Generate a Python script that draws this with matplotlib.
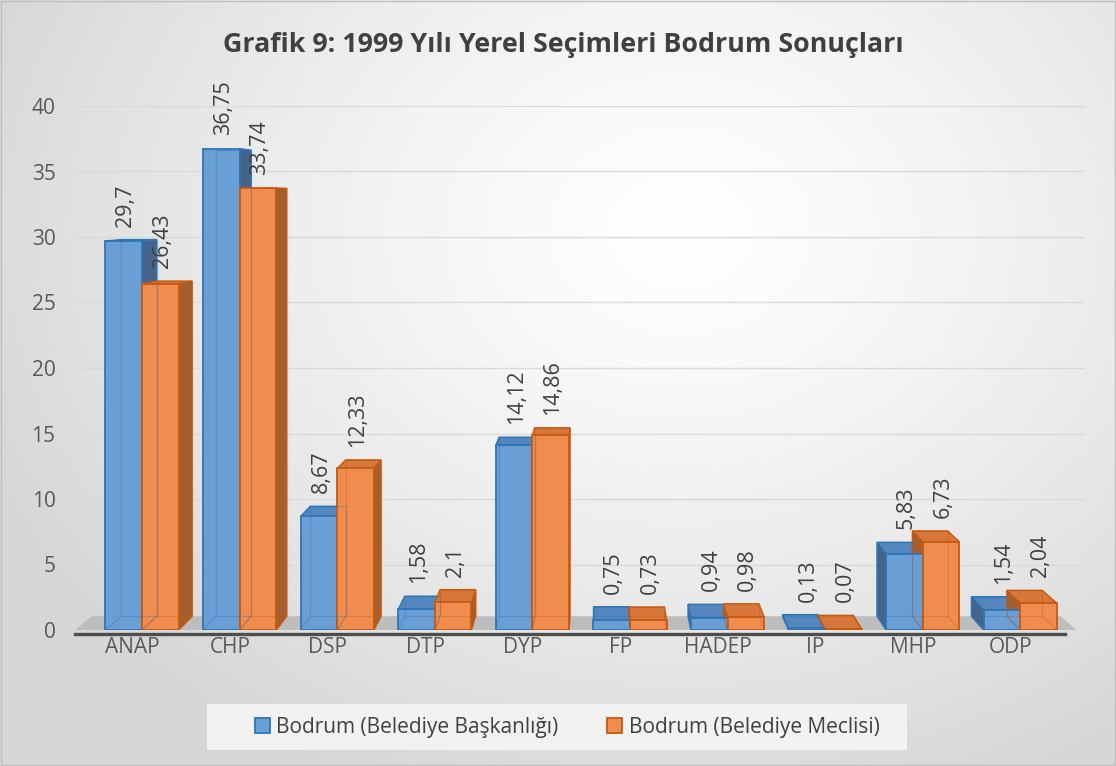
import numpy as np
import matplotlib
matplotlib.use("Agg")
import matplotlib.pyplot as plt
from matplotlib.patches import Polygon, Rectangle

plt.rcParams['font.family'] = ['Open Sans', 'DejaVu Sans']

# Veriler
partiler = ['ANAP', 'CHP', 'DSP', 'DTP', 'DYP', 'FP', 'HADEP', 'IP', 'MHP', 'ODP']
baskanlik = [29.7, 36.75, 8.67, 1.58, 14.12, 0.75, 0.94, 0.13, 5.83, 1.54]
meclis = [26.43, 33.74, 12.33, 2.1, 14.86, 0.73, 0.98, 0.07, 6.73, 2.04]
seri_adlari = ['Bodrum (Belediye Başkanlığı)', 'Bodrum (Belediye Meclisi)']
y_ticks = [0, 5, 10, 15, 20, 25, 30, 35, 40]

# renkler: on yuz, kenar, yan yuz, ust yuz
mavi = ('#6a9fd6', '#2e75b6', '#44648a', '#5586bd')
turuncu = ('#f08d4e', '#c55a11', '#a55e2d', '#d8773a')

# perspektif (veri koordinatlari)
VX, VY, K = 4.78, 32.8, 0.032
W = 0.375


def geri(x, y):
    return x + (VX - x) * K, y + (VY - y) * K


def kutu(ax, xc, h, renk):
    x0, x1 = xc - W / 2, xc + W / 2
    if x1 < VX:
        pts = [(x1, 0), (x1, h), geri(x1, h), geri(x1, 0)]
        ax.add_patch(Polygon(pts, closed=True, fc=renk[2], ec=renk[1], lw=1, zorder=2))
    elif x0 > VX:
        pts = [(x0, 0), (x0, h), geri(x0, h), geri(x0, 0)]
        ax.add_patch(Polygon(pts, closed=True, fc=renk[2], ec=renk[1], lw=1, zorder=2))
    if h < VY:
        pts = [(x0, h), (x1, h), geri(x1, h), geri(x0, h)]
        ax.add_patch(Polygon(pts, closed=True, fc=renk[3], ec=renk[1], lw=1, zorder=2))
    # arka kenarlar (on yuzden seffaf gorunen)
    arka = [geri(x0, 0), geri(x1, 0), geri(x1, h), geri(x0, h)]
    ax.add_patch(Polygon(arka, closed=True, fill=False, ec=renk[1], lw=0.9,
                         alpha=0.35, zorder=4))
    for px, py in ((x0, 0), (x1, 0)):
        bx, by = geri(px, py)
        ax.plot([px, bx], [py, by], color=renk[1], lw=0.9, alpha=0.35, zorder=4)


fig = plt.figure(figsize=(11.16, 7.66), dpi=100)

# arka plan (radyal gecis)
bg = fig.add_axes([0, 0, 1, 1], zorder=-10)
yy, xx = np.mgrid[0:766, 0:1116]
r = np.sqrt((xx - 680) ** 2 + ((yy - 230) * 1.25) ** 2) / 760
r = np.clip(r, 0, 1)
g = 1.0 - 0.16 * r ** 1.3
bg.imshow(np.dstack([g, g, g]), aspect='auto', extent=(0, 1, 0, 1), origin='upper')
bg.set_axis_off()
fig.patches.append(Rectangle((0.0005, 0.0008), 0.999, 0.998, transform=fig.transFigure,
                             fill=False, ec='#bfbfbf', lw=1))

ax = fig.add_axes([75 / 1116, 136 / 766, 1010 / 1116, 524 / 766])
ax.set_facecolor('none')
ax.set_xlim(-0.59, 9.76)
ax.set_ylim(0, 40)

x = np.arange(len(partiler))
xb = x - 0.09
xm = x + 0.285

# zemin
fl, fr = -0.59, 9.67
zemin = [(fl, 0), (fr, 0), geri(fr, 0), geri(fl, 0)]
ax.add_patch(Polygon(zemin, closed=True, fc='#bdbdbd', ec='none', zorder=1))
ax.plot([fl, 9.55], [-0.3, -0.3], color='#4d4d4d', lw=2.4, clip_on=False, zorder=1)

for i in range(len(partiler)):
    kutu(ax, xb[i], baskanlik[i], mavi)
    kutu(ax, xm[i], meclis[i], turuncu)

ax.bar(xb, baskanlik, W, color=mavi[0], edgecolor=mavi[1], lw=1.3, zorder=3,
       label=seri_adlari[0])
ax.bar(xm, meclis, W, color=turuncu[0], edgecolor=turuncu[1], lw=1.3, zorder=3,
       label=seri_adlari[1])

# veri etiketleri (arka ust kenarin uzerinde)
for xs, vals in ((xb, baskanlik), (xm, meclis)):
    for xi, v in zip(xs, vals):
        ust = max(v, geri(xi, v)[1])
        ax.text(xi + 0.02, ust + 1.0, str(v).replace('.', ','), rotation=90,
                ha='center', va='bottom', fontsize=15.5, color='#404040', zorder=5)

ax.set_yticks(y_ticks)
ax.set_xticks(x)
ax.set_xticklabels(partiler)
ax.grid(axis='y', color='#d9d9d9', lw=1, zorder=0)
ax.set_axisbelow(True)
for s in ax.spines.values():
    s.set_visible(False)
ax.tick_params(axis='y', length=0, pad=14, labelsize=15, labelcolor='#595959')
ax.tick_params(axis='x', length=0, pad=5, labelsize=15, labelcolor='#595959')

fig.text(563 / 1116, 1 - 45 / 766, 'Grafik 9: 1999 Yılı Yerel Seçimleri Bodrum Sonuçları',
         ha='center', va='center', fontsize=19.3, fontweight='bold', color='#404040')

# lejant
fig.patches.append(Rectangle((207 / 1116, 1 - 750 / 766), 700 / 1116, 46 / 766,
                             transform=fig.transFigure, fc='#f2f2f2', ec='none', zorder=-5))
fig.legend(loc='center', bbox_to_anchor=(567 / 1116, 1 - 727 / 766), ncol=2,
           frameon=False, fontsize=15, handlelength=0.75, handleheight=0.75,
           handletextpad=0.3, columnspacing=2.3, labelcolor='#404040')

fig.savefig('out.png', dpi=100)
